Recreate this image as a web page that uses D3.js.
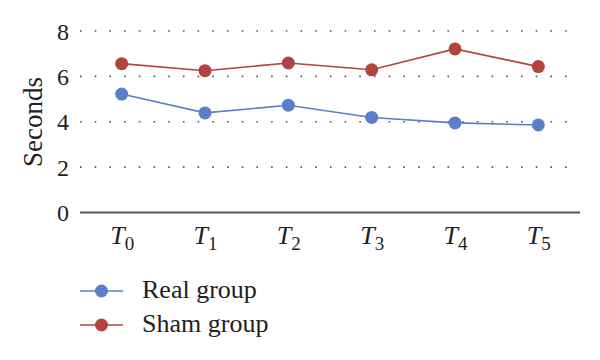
<!DOCTYPE html>
<html><head><meta charset="utf-8">
<script src="https://cdn.jsdelivr.net/npm/d3@7"></script>
<style>body{margin:0;background:#fff}svg text{font-family:"Liberation Serif","DejaVu Serif",serif !important}</style>
</head><body><svg id="c" width="600" height="360"></svg>
<script>
const categories = ["0","1","2","3","4","5"];
const realGroup = [5.22, 4.39, 4.73, 4.19, 3.95, 3.86];
const shamGroup = [6.56, 6.25, 6.59, 6.29, 7.21, 6.43];
const yTicks = [0, 2, 4, 6, 8];
const seriesNames = ["Real group", "Sham group"];
const colors = ["#5b7fc7", "#b1443f"];

(function () {
const svg = d3.select("#c");
const mLeft = 80, mRight = 580, mTop = 31, mBottom = 212.5;
const x = d3.scalePoint().domain(categories).range([mLeft, mRight]).padding(0.5);
const y = d3.scaleLinear().domain([0, 8]).range([mBottom, mTop]);

// gridlines
svg.append("g").selectAll("line").data(yTicks.filter(d => d > 0)).join("line")
  .attr("x1", mLeft).attr("x2", 576).attr("y1", d => y(d)).attr("y2", d => y(d))
  .attr("stroke", "#555").attr("stroke-width", 1.6)
  .attr("stroke-dasharray", "1.6,13.1");

// y axis labels
const yAxis = d3.axisLeft(y).tickValues(yTicks).tickSize(0).tickPadding(11);
const gy = svg.append("g").attr("transform", `translate(${mLeft},0)`).call(yAxis);
gy.select(".domain").remove();
gy.selectAll("text").style("font-size", "24px").attr("fill", "#222").attr("dy", "0.34em");

// x axis
const xAxis = d3.axisBottom(x).tickSize(0).tickPadding(12).tickFormat("");
const gx = svg.append("g").attr("transform", `translate(0,${mBottom})`).call(xAxis);
gx.select(".domain").attr("stroke", "#555").attr("stroke-width", 2).attr("d", `M${mLeft},0H${mRight}`);
gx.selectAll(".tick").each(function(d) {
  const t = d3.select(this).append("text").attr("y", 31).attr("text-anchor", "middle")
    .attr("fill", "#222").style("font-size", "26px");
  t.append("tspan").attr("font-style", "italic").text("T");
  t.append("tspan").style("font-size", "19px").attr("dy", 6).text(d);
});

// y title
svg.append("text").attr("transform", `translate(42,122) rotate(-90)`)
  .attr("text-anchor", "middle").style("font-size", "27px").attr("fill", "#222").text("Seconds");

const line = d3.line().x((d, i) => x(categories[i])).y(d => y(d));
[realGroup, shamGroup].forEach((s, k) => {
  svg.append("path").attr("d", line(s)).attr("fill", "none").attr("stroke", colors[k]).attr("stroke-width", 1.6);
  svg.append("g").selectAll("circle").data(s).join("circle")
    .attr("cx", (d, i) => x(categories[i])).attr("cy", d => y(d)).attr("r", 6.5).attr("fill", colors[k]);
});

// legend
const lg = svg.append("g").selectAll("g").data(seriesNames).join("g")
  .attr("transform", (d, i) => `translate(80,${291 + i * 34})`);
lg.append("line").attr("x1", 0).attr("x2", 43).attr("stroke", (d, i) => colors[i]).attr("stroke-width", 1.6);
lg.append("circle").attr("cx", 21.5).attr("r", 6.5).attr("fill", (d, i) => colors[i]);
lg.append("text").attr("x", 62).attr("y", 7).style("font-size", "26px").attr("fill", "#222").text(d => d);
})();
</script></body></html>
